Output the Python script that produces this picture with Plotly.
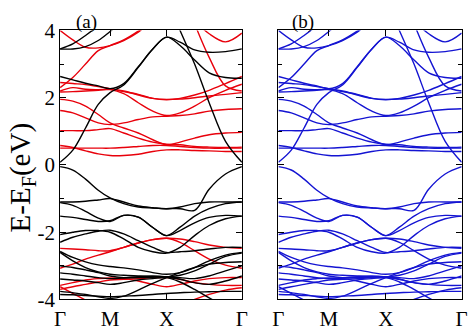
import plotly.graph_objects as go

# k-path positions (fraction of the path) and labels
K_M = 0.275
K_X = 0.586
k_grid = [0, 0.07, 0.14, 0.21, 0.275, 0.35, 0.43, 0.51, 0.586, 0.66, 0.74, 0.82, 0.91, 1.0]
k_ticks = [0, K_M, K_X, 1.0]
k_labels = ["Γ", "M", "X", "Γ"]
e_ticks = [-4, -2, 0, 2, 4]
e_labels = ["-4", "-2", "0", "2", "4"]
N = None

# ---- black bands (panel a) ----
b1 = [0.08, 0.44, 1.1, 1.8, 2.15, 2.38, 2.9, 3.45, 3.8, 3.55, 3.12, 2.74, 2.6, 2.58]
bd = [2.63, 2.53, 2.43, 2.35, 2.27, 2.42, 2.92, 3.45, 3.8, 3.65, 3.42, 3.35, 3.37, 3.45]
b1r = [N, N, N, N, N, N, N, N, 4.9, 4.0, 3.0, 1.85, 0.7, 0.08]
ba = [3.45, 3.6, 3.85, 4.15, 4.5, N, N, N, N, N, N, N, N, N]
bb = [3.45, 3.45, 3.52, 3.7, 3.97, 4.3, N, N, N, N, N, N, N, N]
l1 = [-0.05, -0.15, -0.42, -0.75, -0.98, -1.15, -1.25, -1.28, -1.3, -1.3, -1.35, -0.72, -0.27, -0.05]
l2 = [-1.1, -1.1, -1.08, -1.04, -1.0, -1.1, -1.22, -1.27, -1.3, -1.25, -1.15, -1.1, -1.1, -1.1]
l3 = [-1.52, -1.56, -1.62, -1.68, -1.66, -1.5, -1.55, -1.86, -2.1, -1.85, -1.52, -1.3, -1.15, -1.1]
l4 = [-1.12, -1.2, -1.38, -1.58, -1.68, -1.5, -1.55, -1.86, -2.1, -1.95, -1.72, -1.56, -1.5, -1.52]
l5 = [-2.3, -2.15, -2.05, -1.97, -1.94, -2.05, -2.25, -2.45, -2.6, -2.58, -2.55, -2.5, -2.45, -2.45]
l6 = [-2.07, -2.0, -1.95, -1.95, -2.0, -2.2, -2.45, -2.58, -2.62, -2.45, -2.1, -1.8, -1.6, -1.52]
l7 = [-2.57, -2.75, -2.88, -2.97, -3.02, -3.06, -3.12, -3.2, -3.25, -3.2, -3.05, -2.85, -2.68, -2.6]
l8 = [-2.6, -2.85, -3.05, -3.18, -3.25, -3.28, -3.3, -3.32, -3.33, -3.28, -3.15, -2.95, -2.72, -2.62]
l9 = [-3.0, -3.05, -3.12, -3.2, -3.3, -3.35, -3.35, -3.34, -3.33, -3.35, -3.38, -3.3, -3.15, -3.0]
l10 = [-3.21, -3.25, -3.3, -3.35, -3.38, -3.36, -3.32, -3.3, -3.33, -3.4, -3.5, -3.55, -3.45, -3.3]
l11 = [-3.39, -3.42, -3.45, -3.5, -3.55, -3.5, -3.42, -3.38, -3.35, -3.48, -3.7, -3.95, -4.2, -4.4]
l12 = [-3.76, -3.8, -3.85, -3.92, -3.97, -3.9, -3.72, -3.52, -3.35, -3.2, -3.05, -2.95, -2.9, -2.88]
l13 = [-3.85, -3.86, -3.88, -3.9, -3.92, -3.9, -3.88, -3.85, -3.82, -3.8, -3.78, -3.77, -3.76, -3.76]

# ---- red bands (panel a) ----
rc = [4.0, 3.72, 3.5, 3.48, 3.55, 3.7, 3.95, 4.3, N, N, 4.3, 3.9, 3.66, 3.92]
rd = [2.3, 2.6, 3.0, 3.4, 3.55, 3.72, 3.98, 4.3, N, N, 4.2, 3.2, 2.35, 2.2]
r1 = [2.45, 2.42, 2.39, 2.33, 2.27, 2.18, 2.1, 1.98, 1.94, 1.98, 2.08, 2.22, 2.42, 2.63]
r2 = [2.2, 2.3, 2.25, 2.24, 2.24, 2.12, 1.85, 1.6, 1.47, 1.55, 1.75, 2.0, 2.22, 2.4]
r2b = [2.17, 2.18, 2.2, 2.22, 2.25, 2.2, 2.08, 1.98, 1.95, 1.96, 2.0, 2.05, 2.1, 2.15]
r3 = [1.95, 1.9, 1.75, 1.5, 1.25, 1.1, 0.95, 0.75, 0.6, 0.68, 0.8, 0.9, 0.95, 0.97]
r4 = [1.62, 1.55, 1.4, 1.25, 1.2, 1.25, 1.35, 1.43, 1.45, 1.47, 1.52, 1.6, 1.65, 1.67]
r5 = [1.02, 1.02, 1.02, 1.05, 1.08, 0.95, 0.8, 0.68, 0.62, 0.6, 0.55, 0.53, 0.52, 0.53]
r7 = [0.58, 0.52, 0.42, 0.33, 0.28, 0.28, 0.32, 0.4, 0.45, 0.45, 0.43, 0.42, 0.4, 0.4]
r8 = [0.5, 0.5, 0.5, 0.5, 0.5, 0.52, 0.55, 0.58, 0.58, 0.55, 0.52, 0.5, 0.5, 0.5]
ra = [-2.48, -2.5, -2.52, -2.55, -2.55, -2.45, -2.32, -2.22, -2.18, -2.2, -2.28, -2.38, -2.45, -2.48]
rb = [-3.07, -2.95, -2.8, -2.68, -2.58, -2.45, -2.32, -2.22, -2.18, -2.3, -2.55, -2.8, -2.98, -3.07]
rcl = [-3.58, -3.5, -3.42, -3.38, -3.36, -3.38, -3.45, -3.55, -3.62, -3.55, -3.45, -3.38, -3.35, -3.35]
rdl = [-3.7, -3.62, -3.55, -3.48, -3.42, -3.4, -3.38, -3.35, -3.35, -3.4, -3.5, -3.55, -3.58, -3.58]
rel = [-3.62, -3.82, -4.02, -4.25, -4.45, -4.55, -4.55, -4.5, -4.4, -4.2, -4.0, -3.85, -3.72, -3.65]

black_bands = [b1, bd, b1r, ba, bb, l1, l2, l3, l4, l5, l6, l7, l8, l9, l10, l11, l12, l13]
red_bands = [rc, rd, r1, r2, r2b, r3, r4, r5, r7, r8, ra, rb, rcl, rdl, rel]

BLACK = "#000000"
RED = "#e8000b"
BLUE = "#1414d2"
LW = 1.4

fig = go.Figure()


def add_band(vals, color, xa, ya):
    fig.add_trace(go.Scatter(x=k_grid, y=vals, mode="lines", xaxis=xa, yaxis=ya,
                             line=dict(color=color, width=LW, shape="spline", smoothing=1.0),
                             hoverinfo="skip", showlegend=False))


for v in red_bands:
    add_band(v, RED, "x", "y")
for v in black_bands:
    add_band(v, BLACK, "x", "y")
for v in black_bands + red_bands:
    add_band(v, BLUE, "x2", "y2")

FONT = "Liberation Serif, Times New Roman, serif"
W, H = 474, 331
ydom = [1 - 312 / H, 1 - 20 / H]

xcommon = dict(range=[0, 1], tickvals=k_ticks, ticktext=k_labels, ticks="inside", ticklen=6,
               tickcolor="black", tickwidth=1, showline=True, linecolor="black", linewidth=1,
               mirror="ticks", showgrid=False, zeroline=False,
               tickfont=dict(family=FONT, size=21, color="black"))
ycommon = dict(range=[-4, 4], tickvals=e_ticks, ticktext=e_labels, ticks="inside", ticklen=6,
               tickcolor="black", tickwidth=1, showline=True, linecolor="black", linewidth=1,
               mirror="ticks", showgrid=False, zeroline=False,
               minor=dict(tickvals=[-3, -1, 1, 3], ticks="inside", ticklen=4, tickcolor="black"),
               tickfont=dict(family=FONT, size=21, color="black"))

fig.update_layout(
    width=W, height=H, margin=dict(l=0, r=0, t=0, b=0),
    paper_bgcolor="white", plot_bgcolor="white",
    xaxis=dict(domain=[55.5 / W, 242 / W], anchor="y", **xcommon),
    yaxis=dict(domain=ydom, anchor="x", **ycommon),
    xaxis2=dict(domain=[279.5 / W, 467.5 / W], anchor="y2", **xcommon),
    yaxis2=dict(domain=ydom, anchor="x2", showticklabels=False, **ycommon),
    annotations=[
        dict(text="E-E<sub>F</sub>(eV)", x=16 / W, y=1 - 180 / H, xref="paper", yref="paper",
             textangle=-90, showarrow=False, font=dict(family=FONT, size=29, color="black"),
             xanchor="center", yanchor="middle"),
        dict(text="(a)", x=83 / W, y=1 - 11 / H, xref="paper", yref="paper", showarrow=False,
             font=dict(family=FONT, size=19, color="black"), xanchor="center", yanchor="middle"),
        dict(text="(b)", x=305 / W, y=1 - 11 / H, xref="paper", yref="paper", showarrow=False,
             font=dict(family=FONT, size=19, color="black"), xanchor="center", yanchor="middle"),
    ],
)

fig.write_html("out.html")
